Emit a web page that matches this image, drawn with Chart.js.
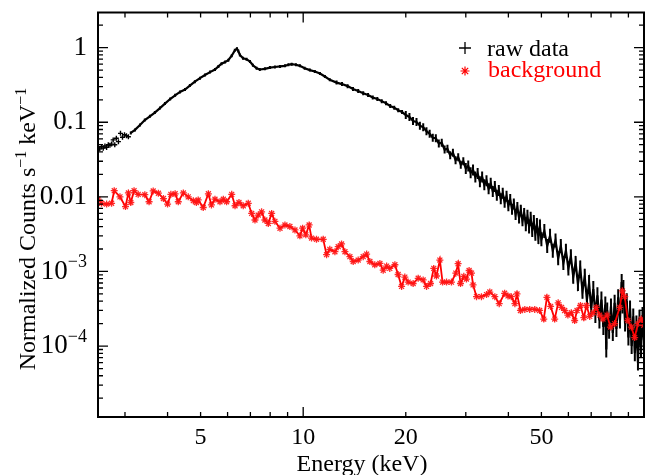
<!DOCTYPE html>
<html>
<head>
<meta charset="utf-8">
<script src="https://cdn.jsdelivr.net/npm/chart.js@4.4.0/dist/chart.umd.min.js"></script>
<style>
  html, body { margin: 0; padding: 0; background: #fff; }
  #wrap { width: 656px; height: 475px; }
</style>
</head>
<body>
<div id="wrap"><canvas id="chart" width="656" height="475"></canvas></div>
<script>
// spectrum (keV, normalized counts s^-1 keV^-1)
const rawEnergy = [
  2.50, 2.53, 2.56, 2.59, 2.62, 2.65, 2.68, 2.71, 2.74, 2.77, 2.80, 2.83, 2.87, 2.91, 2.95, 2.99, 3.03, 3.07,
  3.12, 3.21, 3.32, 3.43, 3.55, 3.67, 3.80, 3.93, 4.07, 4.21, 4.35, 4.50, 4.65, 4.81, 4.98, 5.15, 5.33, 5.51,
  5.64, 5.76, 5.90, 6.03, 6.17, 6.30, 6.39, 6.45, 6.52, 6.66, 6.82, 6.98, 7.12, 7.30, 7.46, 7.72, 7.99, 8.26,
  8.55, 8.84, 9.05, 9.25, 9.52, 9.78, 10.1, 10.46, 10.82, 11.2, 11.58, 11.97, 12.53, 13.0, 13.5, 14.0, 14.5,
  15.0, 15.5, 16.0, 16.5, 17.0, 17.5, 18.0, 18.5, 19.0, 19.5,
  20.0, 20.5, 21.0, 21.5, 22.0, 22.5, 23.0, 23.5, 24.0, 24.5, 25.0, 25.5, 26.0, 26.5, 27.0, 27.5, 28.0, 28.5,
  29.0, 29.5, 30.0, 30.5, 31.0, 31.5, 32.0, 32.5, 33.0, 33.5, 34.0, 34.5, 35.0, 35.5, 36.0, 36.5, 37.0, 37.5,
  38.0, 38.5, 39.0, 39.5, 40.0, 40.5, 41.0, 41.5, 42.0, 42.5, 43.0, 43.5, 44.0, 44.5, 45.0, 45.5, 46.0, 46.5,
  47.0, 47.5, 48.0, 48.5, 49.0, 49.5, 50, 51, 52, 53, 54, 55, 56, 57, 58, 59, 60, 61, 62, 63, 64, 65, 66, 67,
  68, 69, 70, 71, 72, 73, 74, 75, 76, 77, 77.5, 78, 79, 80, 81, 82, 83, 84, 85, 86, 86.5, 87, 88, 89, 90, 91,
  92, 93, 94, 95, 96, 97, 98, 99, 100
];
const rawCounts = [
  0.046, 0.044, 0.047, 0.045, 0.048, 0.046, 0.050, 0.049, 0.051, 0.058, 0.050, 0.061, 0.055, 0.071, 0.063, 0.068, 0.066, 0.064,
  0.072, 0.079, 0.092, 0.107, 0.120, 0.135, 0.155, 0.178, 0.205, 0.23, 0.255, 0.275, 0.31, 0.35, 0.39, 0.43, 0.47, 0.51,
  0.56, 0.61, 0.64, 0.68, 0.78, 0.92, 0.97, 0.90, 0.80, 0.72, 0.70, 0.65, 0.58, 0.53, 0.51, 0.52, 0.54, 0.55,
  0.56, 0.57, 0.59, 0.60, 0.59, 0.57, 0.53, 0.50, 0.48, 0.45, 0.41, 0.37, 0.34, 0.325, 0.305, 0.28, 0.262,
  0.245, 0.232, 0.215, 0.205, 0.192, 0.18, 0.165, 0.157, 0.145, 0.137,
  0.125, 0.118, 0.104, 0.101, 0.090, 0.086, 0.076, 0.070, 0.062, 0.061, 0.052, 0.053, 0.043, 0.044, 0.036, 0.039, 0.031, 0.034,
  0.027, 0.030, 0.024, 0.026, 0.021, 0.023, 0.0185, 0.0205, 0.016, 0.0185, 0.0145, 0.0165, 0.0128, 0.0152, 0.0118, 0.0138, 0.0105, 0.0122,
  0.0094, 0.0112, 0.0085, 0.0102, 0.0076, 0.0092, 0.0068, 0.0080, 0.0058, 0.0072, 0.0052, 0.0066, 0.0048, 0.0060, 0.0043, 0.0054, 0.0040, 0.0051,
  0.0036, 0.0046, 0.0032, 0.0042, 0.0029, 0.0040, 0.0027, 0.0035, 0.0022, 0.0030, 0.0019, 0.0026, 0.0015, 0.0022, 0.0013, 0.0019, 0.0011, 0.0016,
  0.00085, 0.0013, 0.00068, 0.0011, 0.00055, 0.00085,
  0.00042, 0.0007, 0.00032, 0.00058, 0.00026, 0.00048, 0.00022, 0.00042, 0.00018, 0.00036, 0.00009, 0.00030, 0.00016, 0.00034, 0.00015, 0.00038,
  0.00017, 0.00045, 0.00022, 0.00072, 0.00035, 0.00060, 0.00020, 0.00040, 0.00013, 0.00032,
  0.00010, 0.00025, 0.00008, 0.00020, 0.00006, 0.00024, 0.00009, 0.00026, 0.00012
];

const bkgEnergy = [
  2.50, 2.56, 2.65, 2.74, 2.79, 2.90, 3.01, 3.07, 3.12, 3.19, 3.28, 3.43, 3.53, 3.63, 3.76, 3.89, 4.00, 4.09,
  4.21, 4.30, 4.45, 4.60, 4.76, 4.86, 4.92, 5.09, 5.27, 5.38, 5.51, 5.70, 5.83, 5.96, 6.17, 6.31, 6.48, 6.67,
  6.90, 7.06, 7.22, 7.38, 7.55, 7.72, 7.90, 8.08, 8.26, 8.55, 8.84, 9.14, 9.46, 9.78, 9.96, 10.18, 10.41, 10.58,
  10.94, 11.45, 11.71, 11.97, 12.39, 12.67, 12.96, 13.26, 13.71, 14.02, 14.50, 15.00, 15.35, 15.69, 16.22, 16.79,
  17.17, 17.57, 17.95, 18.58, 18.99, 19.44, 19.87, 20.32, 21.02, 21.75, 22.49, 23.01, 23.64, 24.16, 24.60, 25.18,
  25.64, 26.34, 27.23, 28.05, 28.48, 28.95, 29.60, 30.13, 30.68, 31.18, 31.51, 32.25, 33.35, 34.51, 35.28, 36.5,
  37.6, 39.0, 39.9, 40.8, 41.8, 42.4, 43.4, 44.7, 46.2, 47.8, 49.4, 50.8, 51.9, 53.2, 54.7, 56.0, 57.3, 58.5,
  59.8, 61.2, 62.6, 63.6, 65.1, 66.6, 67.8, 69.3, 70.9, 72.4, 74.1, 75.8, 77.9, 79.7, 82.0, 84.9, 86.4, 87.8,
  89.7, 91.8, 93.9, 96.0, 98.2, 99.8
];
const bkgCounts = [
  0.0093, 0.0082, 0.0080, 0.0082, 0.0121, 0.0100, 0.0074, 0.0113, 0.0084, 0.0121, 0.0108, 0.0107, 0.0086, 0.0120, 0.0112, 0.0095, 0.0080, 0.0108,
  0.0110, 0.0086, 0.0113, 0.0100, 0.0089, 0.0084, 0.0091, 0.0072, 0.0110, 0.0078, 0.0093, 0.0086, 0.0093, 0.0086, 0.0108, 0.0076, 0.0084, 0.0076,
  0.0082, 0.0060, 0.0049, 0.0057, 0.0063, 0.0049, 0.0044, 0.0060, 0.0047, 0.0038, 0.0042, 0.0040, 0.0036, 0.0030, 0.0038, 0.0031, 0.0042, 0.0028,
  0.0027, 0.0027, 0.00168, 0.00198, 0.00184, 0.00215, 0.00234, 0.00184, 0.00158, 0.00136, 0.00142, 0.00158, 0.00171, 0.00136, 0.00123, 0.00128,
  0.00104, 0.00118, 0.00110, 0.00123, 0.00091, 0.00063, 0.00084, 0.00072, 0.00069, 0.00081, 0.00077, 0.00063, 0.00069, 0.00110, 0.00087, 0.00142,
  0.00072, 0.00072, 0.00072, 0.00095, 0.00127, 0.00069, 0.00086, 0.00079, 0.00103, 0.00095, 0.00066, 0.00046, 0.00046, 0.00049, 0.00053, 0.00046,
  0.00037, 0.00051, 0.00047, 0.00046, 0.00037, 0.00050, 0.00030, 0.00031, 0.00031, 0.00031, 0.00030, 0.00023, 0.00045, 0.00034, 0.00023, 0.00038, 0.00033, 0.00030,
  0.00026, 0.00028, 0.00022, 0.00030, 0.00035, 0.00024, 0.00035, 0.00025, 0.00028, 0.00033, 0.00026, 0.00023, 0.00026, 0.00018, 0.00020, 0.00033, 0.00055, 0.00046,
  0.00022, 0.00018, 0.00013, 0.00020, 0.00023, 0.00019
];

// axis ticks
const xTicks = [3, 4, 5, 6, 7, 8, 9, 10, 20, 30, 40, 50, 60, 70, 80, 90];
const xMajor = [10];
const xLabelValues = [5, 10, 20, 50];
const xLabelText = ['5', '10', '20', '50'];
const yMajor = [1e-4, 1e-3, 0.01, 0.1, 1];
const yLabelValues = [1, 0.1, 0.01, 1e-3, 1e-4];
const yLabelBase = ['1', '0.1', '0.01', '10', '10'];
const yLabelExp = ['', '', '', '\u22123', '\u22124'];
const yMinor = [];
[1e-5, 1e-4, 1e-3, 0.01, 0.1, 1].forEach(d => {
  for (let k = 2; k <= 9; k++) if (k * d < 2.95) yMinor.push(k * d);
});

const FONT = '"Liberation Serif", "Times New Roman", serif';

function supText(ctx, parts, x, y, align, size, supSize, rise) {
  // parts: [text, isSuperscript]
  const widths = parts.map(p => {
    ctx.font = (p[1] ? supSize : size) + 'px ' + FONT;
    return ctx.measureText(p[0]).width;
  });
  const total = widths.reduce((a, b) => a + b, 0);
  let cx = align === 'right' ? x - total : align === 'center' ? x - total / 2 : x;
  parts.forEach((p, i) => {
    ctx.font = (p[1] ? supSize : size) + 'px ' + FONT;
    ctx.fillText(p[0], cx, p[1] ? y - rise : y);
    cx += widths[i];
  });
}

const framePlugin = {
  id: 'frame',
  afterDraw(chart) {
    const { ctx, chartArea: a, scales: { x, y } } = chart;
    ctx.save();
    ctx.strokeStyle = '#000';
    ctx.fillStyle = '#000';

    // inward ticks on all four sides
    ctx.lineWidth = 1.3;
    ctx.beginPath();
    xTicks.forEach(v => {
      const px = x.getPixelForValue(v);
      const len = xMajor.includes(v) ? 10 : 5;
      ctx.moveTo(px, a.bottom); ctx.lineTo(px, a.bottom - len);
      ctx.moveTo(px, a.top); ctx.lineTo(px, a.top + len);
    });
    yMajor.concat(yMinor).forEach(v => {
      const py = y.getPixelForValue(v);
      const len = yMajor.includes(v) ? 10 : 5;
      ctx.moveTo(a.left, py); ctx.lineTo(a.left + len, py);
      ctx.moveTo(a.right, py); ctx.lineTo(a.right - len, py);
    });
    ctx.stroke();

    ctx.lineWidth = 2;
    ctx.strokeRect(a.left, a.top, a.right - a.left, a.bottom - a.top);

    // tick labels
    ctx.textBaseline = 'middle';
    ctx.font = '24px ' + FONT;
    ctx.textAlign = 'center';
    xLabelValues.forEach((v, i) => {
      ctx.fillText(xLabelText[i], x.getPixelForValue(v), a.bottom + 21);
    });
    ctx.textAlign = 'left';
    yLabelValues.forEach((v, i) => {
      const parts = [[yLabelBase[i], false]];
      if (yLabelExp[i]) parts.push([yLabelExp[i], true]);
      supText(ctx, parts, a.left - 11, y.getPixelForValue(v), 'right', 27, 18, 9);
    });

    // axis titles
    ctx.textBaseline = 'alphabetic';
    ctx.font = '24px ' + FONT;
    ctx.textAlign = 'center';
    ctx.fillText('Energy (keV)', 362, 471);
    ctx.save();
    ctx.translate(35, 229);
    ctx.rotate(-Math.PI / 2);
    ctx.textAlign = 'left';
    supText(ctx, [['Normalized Counts s', false], ['\u22121', true], [' keV', false], ['\u22121', true]], 0, 0, 'center', 24, 16, 9);
    ctx.restore();

    // legend
    ctx.lineWidth = 1.3;
    ctx.beginPath();
    ctx.moveTo(459, 48); ctx.lineTo(471, 48);
    ctx.moveTo(465, 42); ctx.lineTo(465, 54);
    ctx.stroke();
    ctx.textAlign = 'left';
    ctx.font = '24px ' + FONT;
    ctx.fillText('raw data', 487, 56);
    ctx.strokeStyle = '#ff0000';
    ctx.fillStyle = '#ff0000';
    ctx.lineWidth = 1.2;
    Chart.helpers.drawPoint(ctx, { pointStyle: 'star', radius: 4.5, rotation: 0, borderWidth: 1.2 }, 465, 71);
    ctx.fillText('background', 488, 77);
    ctx.restore();
  }
};

const toPoints = (xs, ys) => xs.map((e, i) => ({ x: e, y: ys[i] }));

// below 3.1 keV the bins are plotted as loose crosses; above, as vertical
// error bars whose length grows as the counts get poorer
const rawE = c => (c.raw ? c.raw.x : 0);
function rawRadius(c) {
  const e = rawE(c);
  if (e < 3.1) return 2.5;
  if (e < 12) return 1.5;
  if (e < 20) return 2;
  if (e < 30) return 4;
  if (e < 45) return 5.5;
  if (e < 65) return 7;
  return 8;
}

new Chart(document.getElementById('chart'), {
  type: 'scatter',
  data: {
    datasets: [
      {
        label: 'background',
        data: toPoints(bkgEnergy, bkgCounts),
        showLine: true,
        order: 1,
        borderColor: '#ff0000',
        borderWidth: 1.8,
        pointStyle: 'star',
        pointRadius: 3.5,
        pointBorderWidth: 1.3,
        pointBorderColor: 'rgba(255,20,20,0.9)',
        pointBackgroundColor: '#ff0000'
      },
      {
        label: 'raw data',
        data: toPoints(rawEnergy, rawCounts),
        showLine: true,
        order: 2,
        borderColor: '#000',
        borderWidth: 2.2,
        segment: {
          borderColor: c => c.p0.parsed.x < 3.1 ? 'rgba(0,0,0,0)' : '#000'
        },
        pointStyle: c => rawE(c) < 3.1 ? 'cross' : 'line',
        rotation: c => rawE(c) < 3.1 ? 0 : 90,
        pointRadius: rawRadius,
        pointBorderWidth: c => rawE(c) < 3.1 ? 1.4 : 2,
        pointBorderColor: '#000'
      }
    ]
  },
  options: {
    responsive: false,
    animation: false,
    events: [],
    layout: { padding: { left: 0, right: 12, top: 12.5, bottom: 0 } },
    plugins: { legend: { display: false }, tooltip: { enabled: false } },
    scales: {
      x: {
        type: 'logarithmic', min: 2.5, max: 100,
        ticks: { display: false }, grid: { display: false }, border: { display: false },
        afterFit: s => { s.height = 58; }
      },
      y: {
        type: 'logarithmic', min: 1.12e-5, max: 2.96,
        ticks: { display: false }, grid: { display: false }, border: { display: false },
        afterFit: s => { s.width = 98; }
      }
    }
  },
  plugins: [framePlugin]
});
</script>
</body>
</html>
